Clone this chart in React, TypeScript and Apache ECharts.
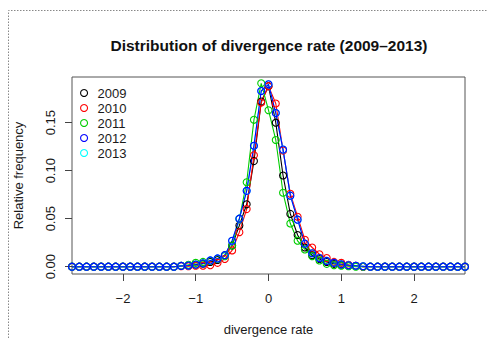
import React, { useEffect, useRef } from "react";
import * as echarts from "echarts";

const xValues = [
  -2.7, -2.6, -2.5, -2.4, -2.3, -2.2, -2.1, -2.0, -1.9, -1.8, -1.7, -1.6, -1.5, -1.4, -1.3,
  -1.2, -1.1, -1.0, -0.9, -0.8, -0.7, -0.6, -0.5, -0.4, -0.3, -0.2, -0.1, 0.0,
  0.1, 0.2, 0.3, 0.4, 0.5, 0.6, 0.7, 0.8, 0.9, 1.0, 1.1, 1.2,
  1.3, 1.4, 1.5, 1.6, 1.7, 1.8, 1.9, 2.0, 2.1, 2.2, 2.3, 2.4, 2.5, 2.6, 2.7,
];

const years = ["2009", "2010", "2011", "2012", "2013"];

const freq2009 = [
  0, 0, 0, 0, 0, 0, 0, 0, 0, 0, 0, 0, 0, 0, 0,
  0.001, 0.001, 0.002, 0.003, 0.005, 0.007, 0.012, 0.022, 0.043, 0.065, 0.110, 0.172, 0.188,
  0.150, 0.095, 0.055, 0.033, 0.020, 0.012, 0.008, 0.005, 0.003, 0.002, 0.001, 0.001,
  0, 0, 0, 0, 0, 0, 0, 0, 0, 0, 0, 0, 0, 0, 0,
];
const freq2010 = [
  0, 0, 0, 0, 0, 0, 0, 0, 0, 0, 0, 0, 0, 0, 0,
  0.0005, 0.0005, 0.001, 0.001, 0.0015, 0.004, 0.008, 0.017, 0.036, 0.060, 0.116, 0.171, 0.188,
  0.170, 0.121, 0.076, 0.052, 0.028, 0.020, 0.013, 0.009, 0.005, 0.004, 0.002, 0.001,
  0, 0, 0, 0, 0, 0, 0, 0, 0, 0, 0, 0, 0, 0, 0,
];
const freq2011 = [
  0, 0, 0, 0, 0, 0, 0, 0, 0, 0, 0, 0, 0, 0, 0,
  0.001, 0.002, 0.004, 0.005, 0.006, 0.008, 0.011, 0.022, 0.050, 0.088, 0.153, 0.191, 0.163,
  0.132, 0.077, 0.045, 0.027, 0.018, 0.011, 0.0065, 0.003, 0.0016, 0.001, 0.0005, 0,
  0, 0, 0, 0, 0, 0, 0, 0, 0, 0, 0, 0, 0, 0, 0,
];
const freq2012 = [
  0, 0, 0, 0, 0, 0, 0, 0, 0, 0, 0, 0, 0, 0, 0,
  0.0008, 0.0012, 0.0022, 0.0035, 0.0065, 0.0086, 0.012, 0.027, 0.050, 0.079, 0.126, 0.183, 0.190,
  0.160, 0.122, 0.074, 0.049, 0.024, 0.014, 0.009, 0.006, 0.004, 0.0025, 0.0015, 0.001,
  0.0005, 0, 0, 0, 0, 0, 0, 0, 0, 0, 0, 0, 0, 0, 0,
];
// 2013 is hidden beneath 2012 in the reference
const freq2013 = [
  0, 0, 0, 0, 0, 0, 0, 0, 0, 0, 0, 0, 0, 0, 0,
  0.0008, 0.0012, 0.0022, 0.0035, 0.0065, 0.0086, 0.012, 0.027, 0.050, 0.079, 0.126, 0.183, 0.190,
  0.160, 0.122, 0.074, 0.049, 0.024, 0.014, 0.009, 0.006, 0.004, 0.0025, 0.0015, 0.001,
  0.0005, 0, 0, 0, 0, 0, 0, 0, 0, 0, 0, 0, 0, 0, 0,
];

const xTicks = [-2, -1, 0, 1, 2];
const yTicks = [0, 0.05, 0.1, 0.15];
const colors = ["#000000", "#FF0000", "#00CD00", "#0000FF", "#00FFFF"];

const FONT = "Liberation Sans, Arial, Helvetica, sans-serif";
const TXT = "#1a1a1a";

export default function App() {
  const ref = useRef<HTMLDivElement>(null);
  useEffect(() => {
    const chart = echarts.init(ref.current!, null, { renderer: "svg" });
    const data = [freq2009, freq2010, freq2011, freq2012, freq2013];
    const drawOrder = [0, 1, 2, 4, 3];
    const series = drawOrder.map((i) => ({
      type: "line",
      name: years[i],
      data: xValues.map((x, k) => [x, data[i][k]]),
      symbol: "circle",
      symbolSize: 7,
      showSymbol: true,
      lineStyle: { color: colors[i], width: 1.1 },
      itemStyle: { color: "rgba(0,0,0,0)", borderColor: colors[i], borderWidth: 1.1 },
      emphasis: { disabled: true },
    }));
    chart.setOption({
      animation: false,
      textStyle: { fontFamily: FONT },
      grid: {
        left: 72,
        top: 77,
        width: 393,
        height: 197,
        show: true,
        borderColor: "#555",
        borderWidth: 1,
        outerBoundsMode: "none",
      },
      legend: {
        orient: "vertical",
        left: 75,
        top: 81,
        icon: "circle",
        itemWidth: 17,
        itemHeight: 7,
        itemGap: 1,
        selectedMode: false,
        textStyle: { fontSize: 13, color: TXT, fontFamily: FONT, lineHeight: 14 },
        data: years.map((y, i) => ({
          name: y,
          icon: "circle",
          itemStyle: { color: "rgba(0,0,0,0)", borderColor: colors[i], borderWidth: 1.1 },
        })),
      },
      xAxis: {
        type: "value",
        min: -2.7,
        max: 2.7,
        name: "divergence rate",
        nameLocation: "middle",
        nameGap: 49,
        nameTextStyle: { fontSize: 13, color: TXT, fontFamily: FONT },
        axisLine: { show: false, onZero: false },
        splitLine: { show: false },
        axisTick: { show: true, inside: false, length: 7, customValues: xTicks, lineStyle: { color: "#444" } },
        axisLabel: {
          customValues: xTicks,
          margin: 18,
          fontSize: 13,
          color: TXT,
          fontFamily: FONT,
          formatter: (v: number) => (v < 0 ? "\u2212" + Math.abs(v) : String(v)),
        },
      },
      yAxis: {
        type: "value",
        min: -0.0076,
        max: 0.1976,
        name: "Relative frequency",
        nameLocation: "middle",
        nameGap: 47,
        nameTextStyle: { fontSize: 13, color: TXT, fontFamily: FONT },
        axisLine: { show: false, onZero: false },
        splitLine: { show: false },
        axisTick: { show: true, inside: false, length: 7, customValues: yTicks, lineStyle: { color: "#444" } },
        axisLabel: {
          customValues: yTicks,
          rotate: 90,
          margin: 15,
          fontSize: 13,
          color: TXT,
          fontFamily: FONT,
          formatter: (v: number) => v.toFixed(2),
        },
      },
      graphic: [
        {
          type: "polyline",
          shape: { points: [[8.5, 338], [8.5, 10.5], [488, 10.5]] },
          style: { stroke: "#888", lineWidth: 1, lineDash: [1.5, 1.5], fill: null },
          silent: true,
        },
        {
          type: "text",
          x: 269,
          y: 45,
          style: {
            text: "Distribution of divergence rate (2009\u20132013)",
            align: "center",
            verticalAlign: "middle",
            fontSize: 15.5,
            fontWeight: "bold",
            fontFamily: FONT,
            fill: "#111",
          },
          silent: true,
        },
      ],
      series,
    });
    return () => chart.dispose();
  }, []);
  return (
    <div
      ref={ref}
      style={{ position: "absolute", left: 0, top: 0, width: 488, height: 338, background: "#fff" }}
    />
  );
}
